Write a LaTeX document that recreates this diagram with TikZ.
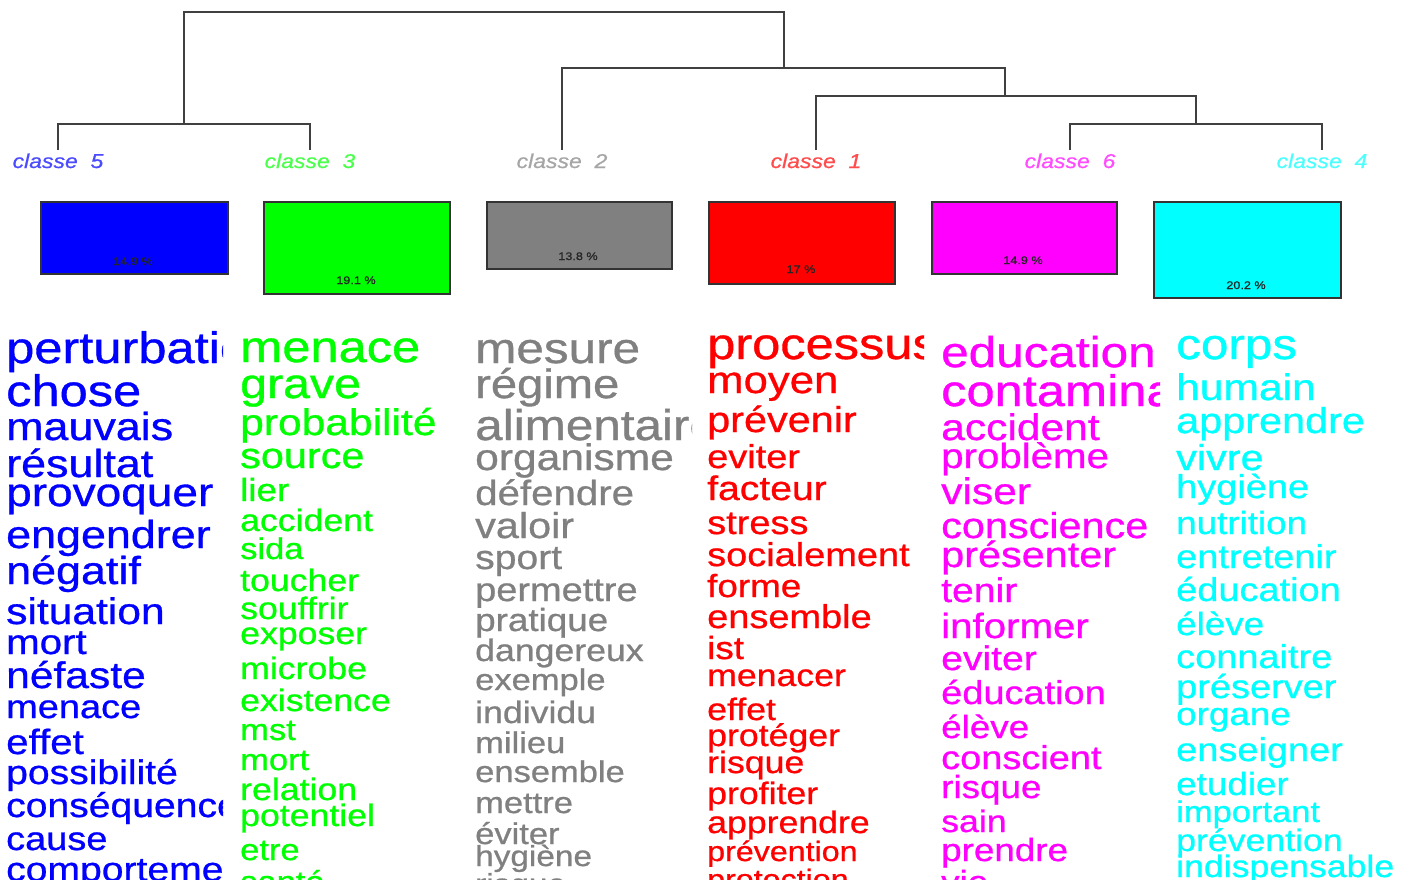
\documentclass[tikz,border=0pt]{standalone}
\usepackage{fontspec}
\newfontfamily\wordfont[FakeStretch=1.15,FakeBold=0.8]{Liberation Sans}
\definecolor{c5}{RGB}{0,0,255}
\definecolor{c3}{RGB}{0,255,0}
\definecolor{c2}{RGB}{128,128,128}
\definecolor{c1}{RGB}{255,0,0}
\definecolor{c6}{RGB}{255,0,255}
\definecolor{c4}{RGB}{0,255,255}
\tikzset{
  dendro/.style={draw=black!75, line width=1.5pt},
  classlabel/.style={font=\wordfont\itshape\fontsize{20}{20}\selectfont, anchor=base, inner sep=0pt},
  classbox/.style={draw=black!80, line width=1.5pt, anchor=north west, inner sep=0pt},
  pct/.style={font=\wordfont\fontsize{11}{11}\selectfont, anchor=base, inner sep=0pt, text=black!85},
  word/.style={font=\wordfont\fontsize{#1}{#1}\selectfont, anchor=base west, inner sep=0pt},
}
\begin{document}
\begin{tikzpicture}[x=1pt,y=-1pt]
	\useasboundingbox (0,0) rectangle (1404,879);

	\coordinate (b5) at (58,150);
	\coordinate (b3) at (310,150);
	\coordinate (b2) at (562,150);
	\coordinate (b1) at (816,150);
	\coordinate (b6) at (1070,150);
	\coordinate (b4) at (1322,150);
	\coordinate (j53) at (184,124);
	\coordinate (j64) at (1196,124);
	\coordinate (j164) at (1005,96);
	\coordinate (j2) at (784,68);
	\coordinate (root) at (484,12);

	\draw[dendro] (b5) |- (j53) -| (b3);
	\draw[dendro] (b6) |- (j64) -| (b4);
	\draw[dendro] (b1) |- (j164) -| (j64);
	\draw[dendro] (b2) |- (j2) -| (j164);
	\draw[dendro] (j53) |- (root) -| (j2);

	\node[classlabel, text=c5!70!white] (lab5) at (58,168) {classe~~5};
	\node[classlabel, text=c3!70!white] (lab3) at (310,168) {classe~~3};
	\node[classlabel, text=c2!70!white] (lab2) at (562,168) {classe~~2};
	\node[classlabel, text=c1!70!white] (lab1) at (816,168) {classe~~1};
	\node[classlabel, text=c6!70!white] (lab6) at (1070,168) {classe~~6};
	\node[classlabel, text=c4!70!white] (lab4) at (1322,168) {classe~~4};

	\node[classbox, fill=c5, minimum width=187pt, minimum height=72pt] (box5) at (40,201) {};
	\node[classbox, fill=c3, minimum width=186pt, minimum height=92pt] (box3) at (263,201) {};
	\node[classbox, fill=c2, minimum width=185pt, minimum height=67pt] (box2) at (486,201) {};
	\node[classbox, fill=c1, minimum width=186pt, minimum height=82pt] (box1) at (708,201) {};
	\node[classbox, fill=c6, minimum width=185pt, minimum height=72pt] (box6) at (931,201) {};
	\node[classbox, fill=c4, minimum width=187pt, minimum height=96pt] (box4) at (1153,201) {};

	\node[pct] (pct5) at (133,265) {14.9 \%};
	\node[pct] (pct3) at (356,284) {19.1 \%};
	\node[pct] (pct2) at (578,260) {13.8 \%};
	\node[pct] (pct1) at (801,273) {17 \%};
	\node[pct] (pct6) at (1023,264) {14.9 \%};
	\node[pct] (pct4) at (1246,289) {20.2 \%};

	\begin{scope}[every node/.append style={text=c5}]
	\clip (0,300) rectangle (223,879);
	\node[word=44] (a1) at (6,363) {perturbation};
	\node[word=44] (a2) at (6,406) {chose};
	\node[word=39] (a3) at (6,440) {mauvais};
	\node[word=39] (a4) at (6,477) {résultat};
	\node[word=40] (a5) at (6,506) {provoquer};
	\node[word=39] (a6) at (6,548) {engendrer};
	\node[word=39] (a7) at (6,584) {négatif};
	\node[word=37] (a8) at (6,624) {situation};
	\node[word=35] (a9) at (6,654) {mort};
	\node[word=37] (a10) at (6,688) {néfaste};
	\node[word=33] (a11) at (6,718) {menace};
	\node[word=35] (a12) at (6,754) {effet};
	\node[word=34] (a13) at (6,784) {possibilité};
	\node[word=34] (a14) at (6,817) {conséquence};
	\node[word=33] (a15) at (6,850) {cause};
	\node[word=34] (a16) at (6,881) {comportement};
	\end{scope}

	\begin{scope}[every node/.append style={text=c3}]
	\clip (234,300) rectangle (457,879);
	\node[word=44] (b1) at (240,362) {menace};
	\node[word=42] (b2) at (240,398) {grave};
	\node[word=37] (b3) at (240,435) {probabilité};
	\node[word=36] (b4) at (240,468) {source};
	\node[word=32] (b5) at (240,501) {lier};
	\node[word=31] (b6) at (240,531) {accident};
	\node[word=30] (b7) at (240,559) {sida};
	\node[word=31] (b8) at (240,591) {toucher};
	\node[word=31] (b9) at (240,619) {souffrir};
	\node[word=31] (b10) at (240,644) {exposer};
	\node[word=31] (b11) at (240,679) {microbe};
	\node[word=31] (b12) at (240,711) {existence};
	\node[word=30] (b13) at (240,740) {mst};
	\node[word=30] (b14) at (240,770) {mort};
	\node[word=31] (b15) at (240,800) {relation};
	\node[word=31] (b16) at (240,826) {potentiel};
	\node[word=30] (b17) at (240,860) {etre};
	\node[word=30] (b18) at (240,892) {santé};
	\end{scope}

	\begin{scope}[every node/.append style={text=c2}]
	\clip (469,300) rectangle (692,879);
	\node[word=43] (c1) at (475,363) {mesure};
	\node[word=41] (c2) at (475,398) {régime};
	\node[word=43] (c3) at (475,440) {alimentaire};
	\node[word=37] (c4) at (475,470) {organisme};
	\node[word=35] (c5) at (475,505) {défendre};
	\node[word=36] (c6) at (475,538) {valoir};
	\node[word=34] (c7) at (475,569) {sport};
	\node[word=33] (c8) at (475,601) {permettre};
	\node[word=32] (c9) at (475,631) {pratique};
	\node[word=31] (c10) at (475,661) {dangereux};
	\node[word=30] (c11) at (475,690) {exemple};
	\node[word=31] (c12) at (475,723) {individu};
	\node[word=30] (c13) at (475,753) {milieu};
	\node[word=30] (c14) at (475,782) {ensemble};
	\node[word=30] (c15) at (475,813) {mettre};
	\node[word=30] (c16) at (475,844) {éviter};
	\node[word=29] (c17) at (475,866) {hygiène};
	\node[word=29] (c18) at (475,894) {risque};
	\end{scope}

	\begin{scope}[every node/.append style={text=c1}]
	\clip (701,300) rectangle (924,879);
	\node[word=44] (d1) at (707,359) {processus};
	\node[word=38] (d2) at (707,393) {moyen};
	\node[word=36] (d3) at (707,432) {prévenir};
	\node[word=33] (d4) at (707,468) {eviter};
	\node[word=34] (d5) at (707,500) {facteur};
	\node[word=33] (d6) at (707,534) {stress};
	\node[word=33] (d7) at (707,566) {socialement};
	\node[word=32] (d8) at (707,597) {forme};
	\node[word=33] (d9) at (707,628) {ensemble};
	\node[word=32] (d10) at (707,659) {ist};
	\node[word=31] (d11) at (707,686) {menacer};
	\node[word=31] (d12) at (707,720) {effet};
	\node[word=31] (d13) at (707,746) {protéger};
	\node[word=31] (d14) at (707,773) {risque};
	\node[word=31] (d15) at (707,804) {profiter};
	\node[word=31] (d16) at (707,833) {apprendre};
	\node[word=28] (d17) at (707,861) {prévention};
	\node[word=28] (d18) at (707,889) {protection};
	\end{scope}

	\begin{scope}[every node/.append style={text=c6}]
	\clip (935,300) rectangle (1160,879);
	\node[word=43] (e1) at (941,367) {education};
	\node[word=44] (e2) at (941,406) {contamination};
	\node[word=37] (e3) at (941,440) {accident};
	\node[word=35] (e4) at (941,468) {problème};
	\node[word=37] (e5) at (941,504) {viser};
	\node[word=36] (e6) at (941,538) {conscience};
	\node[word=36] (e7) at (941,567) {présenter};
	\node[word=34] (e8) at (941,602) {tenir};
	\node[word=35] (e9) at (941,638) {informer};
	\node[word=34] (e10) at (941,670) {eviter};
	\node[word=33] (e11) at (941,704) {éducation};
	\node[word=32] (e12) at (941,738) {élève};
	\node[word=33] (e13) at (941,769) {conscient};
	\node[word=32] (e14) at (941,798) {risque};
	\node[word=31] (e15) at (941,832) {sain};
	\node[word=32] (e16) at (941,861) {prendre};
	\node[word=32] (e17) at (941,893) {vie};
	\end{scope}

	\begin{scope}[every node/.append style={text=c4}]
	\clip (1170,300) rectangle (1393,879);
	\node[word=43] (f1) at (1176,359) {corps};
	\node[word=37] (f2) at (1176,400) {humain};
	\node[word=36] (f3) at (1176,433) {apprendre};
	\node[word=36] (f4) at (1176,470) {vivre};
	\node[word=33] (f5) at (1176,498) {hygiène};
	\node[word=32] (f6) at (1176,534) {nutrition};
	\node[word=33] (f7) at (1176,568) {entretenir};
	\node[word=33] (f8) at (1176,601) {éducation};
	\node[word=32] (f9) at (1176,635) {élève};
	\node[word=33] (f10) at (1176,668) {connaitre};
	\node[word=33] (f11) at (1176,698) {préserver};
	\node[word=32] (f12) at (1176,725) {organe};
	\node[word=33] (f13) at (1176,761) {enseigner};
	\node[word=32] (f14) at (1176,795) {etudier};
	\node[word=30] (f15) at (1176,822) {important};
	\node[word=31] (f16) at (1176,851) {prévention};
	\node[word=31] (f17) at (1176,877) {indispensable};
	\end{scope}
\end{tikzpicture}
\end{document}
